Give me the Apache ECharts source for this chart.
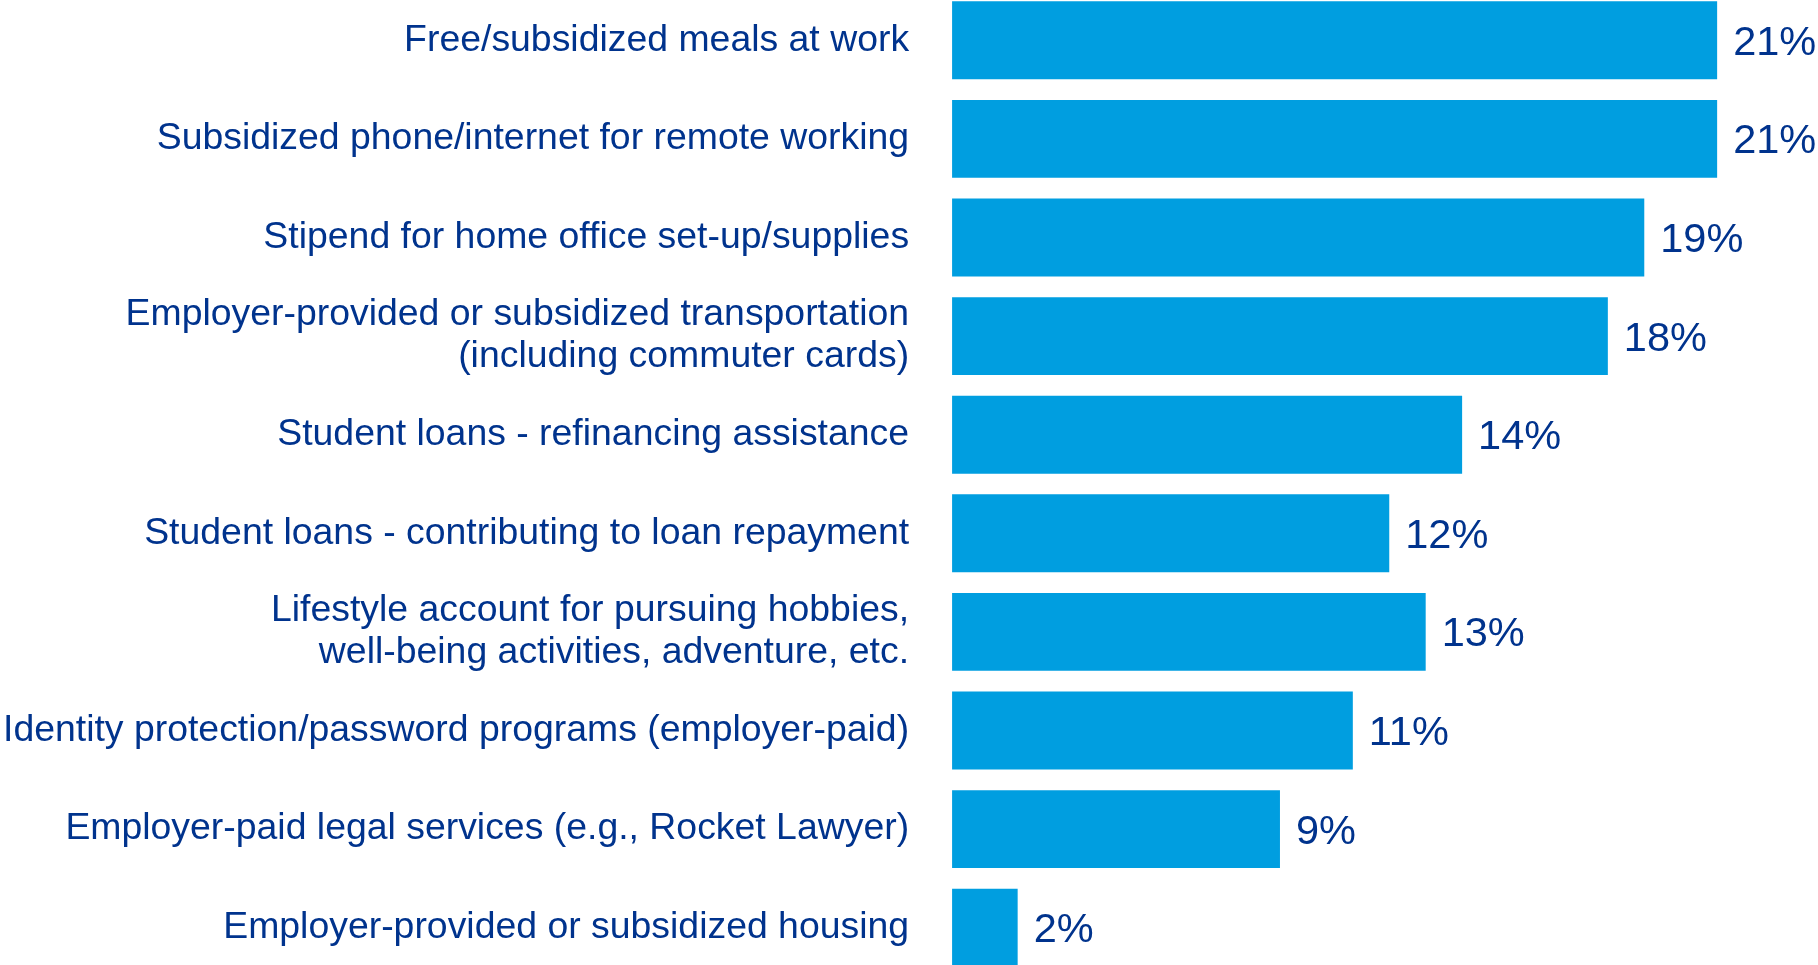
<!DOCTYPE html>
<html>
<head>
<meta charset="utf-8">
<title>Benefits</title>
<script src="https://cdn.jsdelivr.net/npm/echarts@6/dist/echarts.min.js"></script>
<style>
  html, body { margin: 0; padding: 0; background: #fff; overflow: hidden; }
  /* bands run a little past the top and bottom edge, as in the source slide */
  #chart { position: absolute; left: 0; top: -9px; width: 1818px; height: 986px; }
</style>
</head>
<body>
<div id="chart"></div>
<script>
const categories = [
  "Free/subsidized meals at work",
  "Subsidized phone/internet for remote working",
  "Stipend for home office set-up/supplies",
  "Employer-provided or subsidized transportation\n(including commuter cards)",
  "Student loans - refinancing assistance",
  "Student loans - contributing to loan repayment",
  "Lifestyle account for pursuing hobbies,\nwell-being activities, adventure, etc.",
  "Identity protection/password programs (employer-paid)",
  "Employer-paid legal services (e.g., Rocket Lawyer)",
  "Employer-provided or subsidized housing"
]
// share of respondents, %
const values = [21, 21, 19, 18, 14, 12, 13, 11, 9, 1.8]

const navy = "#00338D"
const barBlue = "#009EE0"
const font = "'Liberation Sans', Arial, sans-serif"

const myChart = echarts.init(document.getElementById("chart"))

const option = {
  animation: false,
  grid: {
    left: 950,
    right: 28,
    top: 0,
    bottom: 0
  },
  xAxis: {
    type: "value",
    min: 0,
    max: 23,
    show: false
  },
  yAxis: {
    type: "category",
    inverse: true,
    data: categories,
    axisLine: { show: false },
    axisTick: { show: false },
    splitLine: { show: false },
    axisLabel: {
      margin: 43,
      align: "right",
      fontSize: 37.4,
      lineHeight: 42,
      padding: [4, 0, 0, 0],
      color: navy,
      fontFamily: font
    }
  },
  series: [
    {
      type: "bar",
      data: values,
      barCategoryGap: "21%",
      itemStyle: { color: barBlue },
      label: {
        show: true,
        position: "right",
        distance: 16,
        offset: [0, 3],
        fontSize: 41.5,
        color: navy,
        fontFamily: font,
        formatter: (p) => Math.round(p.value) + "%"
      }
    }
  ]
}

myChart.setOption(option)
</script>
</body>
</html>
